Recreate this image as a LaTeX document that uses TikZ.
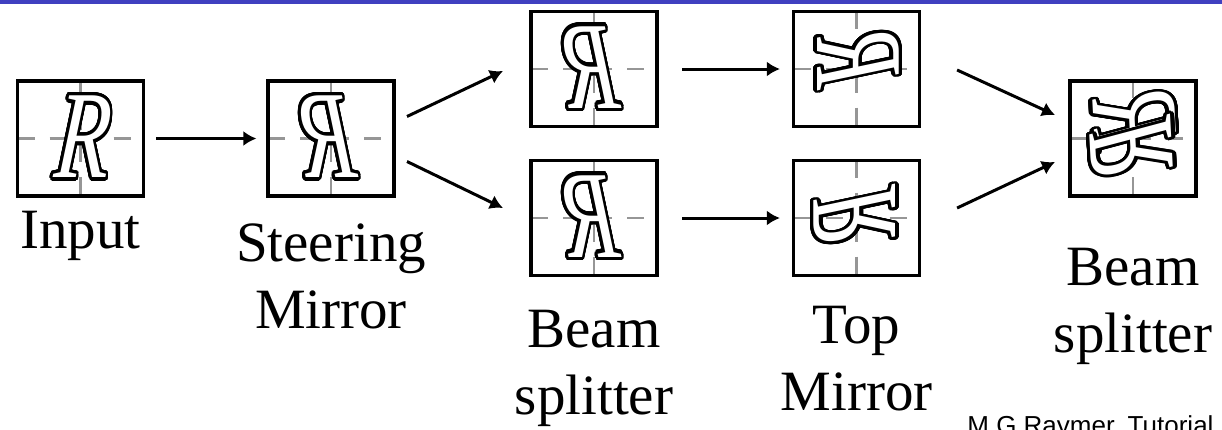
\documentclass[tikz,border=0pt]{standalone}
\usepackage{fontspec}
\setmainfont{Liberation Serif}
\newfontfamily\creditfont{Liberation Sans}
\newfontfamily\glyphfont[ItalicFeatures={FakeSlant=0.12}]{Liberation Serif}
\usepackage{graphicx}
\usepackage{contour}
\contourlength{1.7pt}
\contournumber{40}
\usetikzlibrary{positioning,arrows.meta,calc}
\definecolor{slideblue}{RGB}{64,64,192}
\definecolor{guide}{RGB}{150,150,150}
\newcommand{\hollowR}{\scalebox{0.74}[1.04]{{\color{white}\contour{black}{\glyphfont\itshape R}}}}
\newcommand{\turnR}[1]{\rotatebox[origin=c]{#1}{\reflectbox{\hollowR}}}
\tikzset{
  guideline/.style={draw=guide,line width=1.4pt,dash pattern=on 8.5pt off 7.5pt},
  frame/.style={draw,line width=1.6pt,minimum width=63pt,minimum height=57.5pt,inner sep=0pt,
    font=\fontsize{60}{60}\selectfont,
    path picture={\draw[guideline] (path picture bounding box.west) -- (path picture bounding box.east)
      (path picture bounding box.north) -- (path picture bounding box.south);}},
  caption/.style={align=center,inner sep=0pt,font=\fontsize{28.5}{33.5}\selectfont},
  flow/.style={-{Latex[length=6.5pt,width=7.5pt]},line width=1.5pt},
}

\begin{document}
\begin{tikzpicture}[x=0.5pt,y=-0.5pt]
  \useasboundingbox (0,0) rectangle (1222,429);
  \draw[slideblue,line width=1.6pt] (0,2) -- (1222,2);

  \node[frame] (inp) at (80.5,138.5) {\hollowR};
  \node[frame] (steer) at (331,138.5) {\reflectbox{\hollowR}};
  \node[frame] (bsU) at (594,69) {\reflectbox{\hollowR}};
  \node[frame] (bsL) at (594,218) {\reflectbox{\hollowR}};
  \node[frame] (tmU) at (856.5,69) {\turnR{-90}};
  \node[frame] (tmL) at (856.5,218) {\turnR{90}};
  \node[frame] (out) at (1133,138.5) {\raisebox{5pt}{\turnR{-87}}\llap{\raisebox{-5pt}{\turnR{93}}}};

  \node[caption,below=6.4pt of inp] (inpL) {Input};
  \node[caption,below=12.7pt of steer] (steerL) {Steering\\Mirror};
  \node[caption,below=16.1pt of bsL] (bsLbl) {Beam\\splitter};
  \node[caption,below=14.1pt of tmL] (tmLbl) {Top\\Mirror};
  \node[caption,below=24.9pt of out] (outL) {Beam\\splitter};
  \node[anchor=base west,inner sep=0pt,font=\creditfont\fontsize{13}{13}\selectfont] (credit) at (967,434) {M.G Raymer, Tutorial};

  \draw[flow,shorten <=5.5pt,shorten >=5pt] (inp) -- (steer);
  \draw[flow] ($(steer.east)+(11.4,-22)$) -- ($(bsU.west)+(-26.4,2)$);
  \draw[flow] ($(steer.east)+(11.4,23)$) -- ($(bsL.west)+(-26.4,-10)$);
  \draw[flow,shorten <=11.7pt,shorten >=6pt] (bsU) -- (tmU);
  \draw[flow,shorten <=11.7pt,shorten >=6pt] (bsL) -- (tmL);
  \draw[flow] ($(tmU.east)+(36,1)$) -- ($(out.west)+(-13.4,-23.5)$);
  \draw[flow] ($(tmL.east)+(36,-10)$) -- ($(out.west)+(-13.4,23.5)$);
\end{tikzpicture}
\end{document}
